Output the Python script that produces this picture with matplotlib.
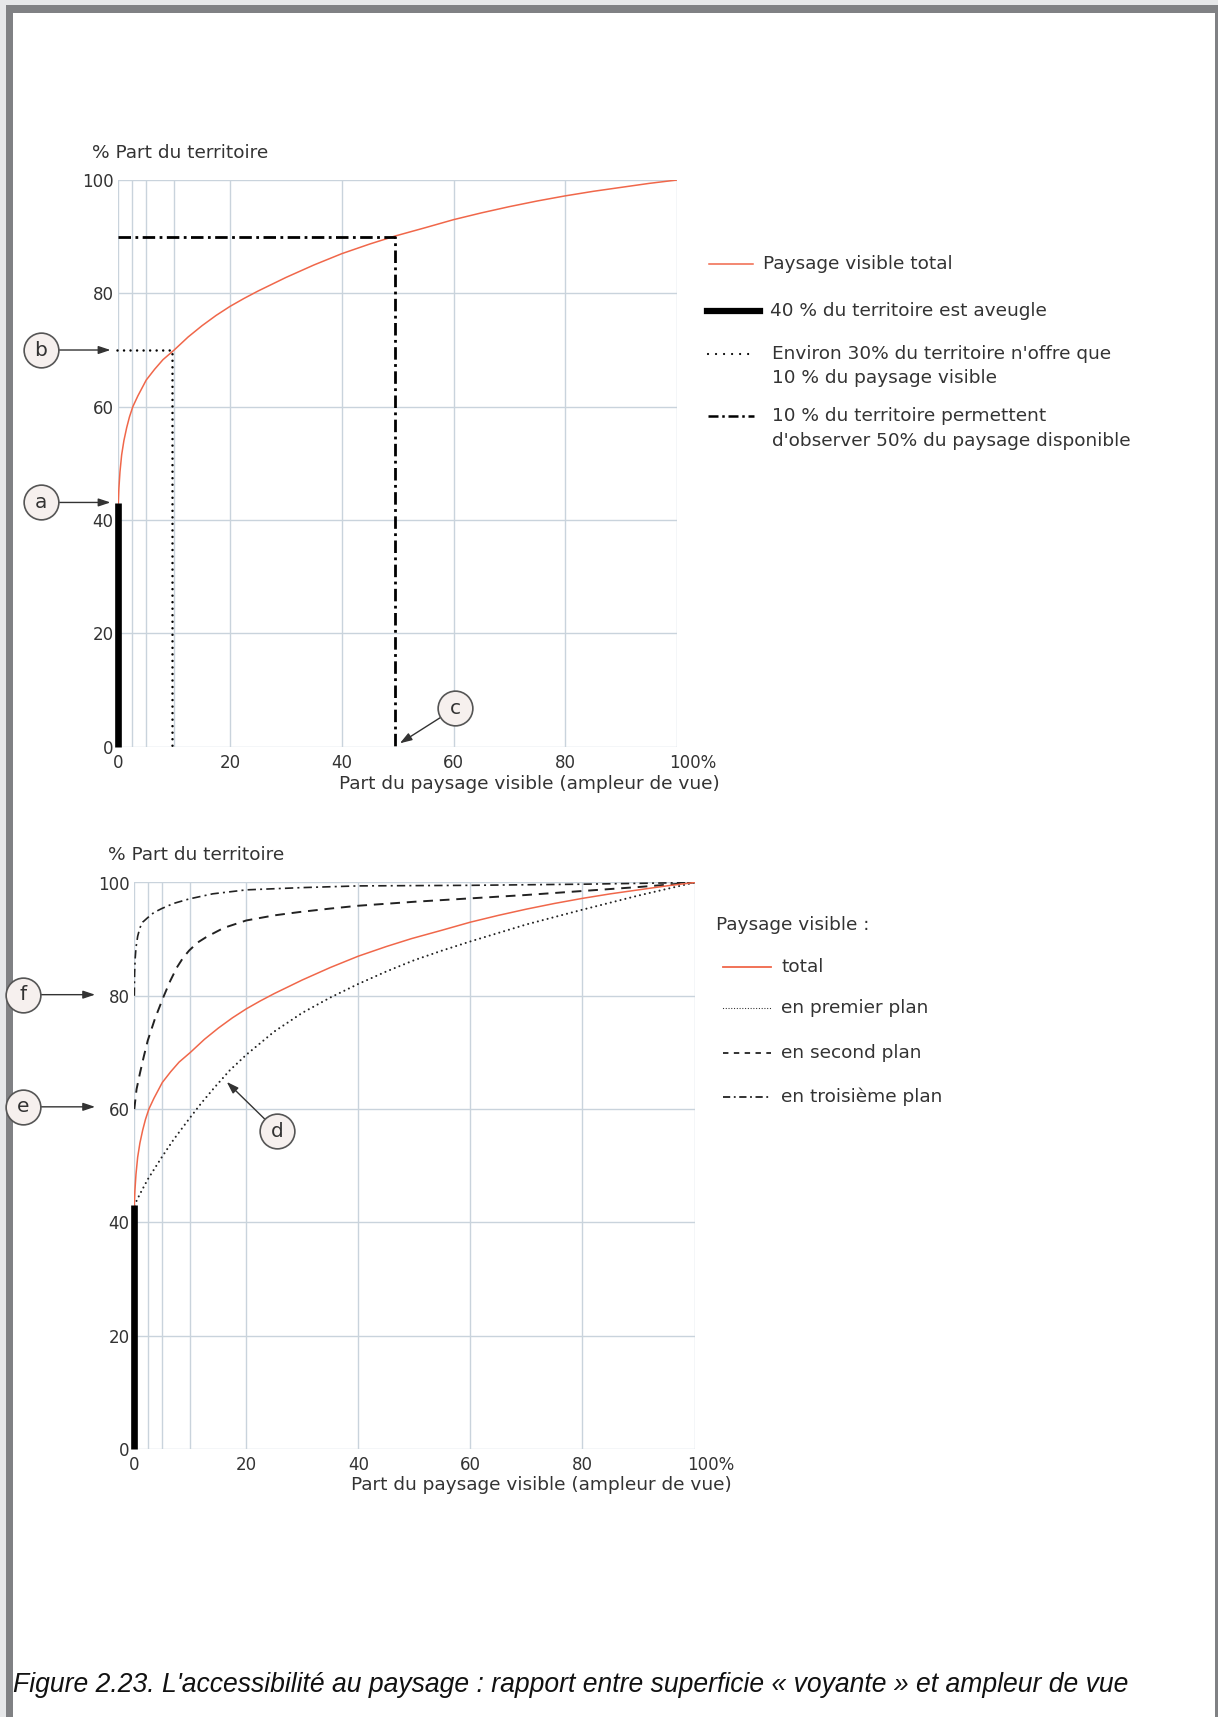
import numpy as np
import matplotlib.pyplot as plt
from matplotlib.lines import Line2D
from matplotlib.patches import Rectangle
from matplotlib.transforms import ScaledTranslation

# Courbe "paysage visible total"
total_x = [0, 0.1, 0.3, 0.6, 1, 1.5, 2, 2.6, 3.5, 5, 6.5, 8, 10, 12.5, 15, 17.5, 20, 22.5, 25, 27.5, 30,
           35, 40, 45, 49.5, 55, 60, 65, 70, 75, 80, 85, 90, 95, 100]
total_y = [43, 45.5, 48.5, 51.5, 54, 56.3, 58.2, 60, 61.9, 64.7, 66.6, 68.3, 70, 72.3, 74.3, 76.1, 77.7,
           79.1, 80.4, 81.6, 82.8, 85, 87, 88.7, 90.1, 91.6, 93, 94.2, 95.3, 96.3, 97.2, 98, 98.7, 99.4, 100]

# Plans (graphique du bas)
premier_x = [0, 1, 2.4, 4.9, 7, 9.8, 12, 14.3, 17, 20, 25, 30, 35, 40, 45, 50, 55, 60, 70, 80, 90, 100]
premier_y = [43, 45, 47.6, 51.5, 54.6, 58.3, 61.1, 63.8, 66.8, 69.6, 73.7, 77, 79.7, 82.1, 84.3, 86.3, 88,
             89.6, 92.6, 95.2, 97.7, 100]

second_x = [0, 0.4, 1, 1.7, 2.4, 3.7, 5.2, 6.4, 7.6, 8.7, 9.8, 11.3, 12.9, 16, 20, 25, 29.6, 35, 40, 50,
            60, 70, 80, 90, 100]
second_y = [60, 63.5, 66.3, 69.3, 72.1, 76, 79.8, 82.6, 85, 86.7, 88, 89.4, 90.4, 92, 93.3, 94.2, 94.8,
            95.4, 95.9, 96.6, 97.2, 97.8, 98.5, 99.2, 100]

troisieme_x = [0, 0.05, 0.15, 0.3, 0.6, 1, 1.5, 2.4, 3.5, 4.9, 7, 9.8, 14, 20, 30, 40, 60, 80, 100]
troisieme_y = [80, 84, 86.5, 88.5, 90.5, 92, 93, 93.8, 94.7, 95.4, 96.3, 97.1, 98, 98.7, 99.1, 99.4, 99.5,
               99.7, 100]

aveugle_y = 43          # part aveugle du territoire
seuil_b = (9.7, 70)     # environ 30 % du territoire -> 10 % du paysage
seuil_c = (49.5, 90)    # 10 % du territoire -> 50 % du paysage

xticks = [0, 20, 40, 60, 80, 100]
xticklabels = ['0', '20', '40', '60', '80', '100%']
yticks = [0, 20, 40, 60, 80, 100]
vgrid = [0, 2.5, 5, 10, 20, 40, 60, 80, 100]

RED = '#f0674a'
GRID = '#c9d3dc'
TXT = '#333333'
FONT = 'DejaVu Sans'
FS = 13.3      # textes
FS_TICK = 12   # graduations

W, H = 1218, 1717
fig = plt.figure(figsize=(W / 100, H / 100), dpi=100)
fig.patch.set_facecolor('white')


def fx(px):
    return px / W


def fy(py):
    return 1 - py / H


# cadre de la page
fig.add_artist(Rectangle((0, 0), 1, 1, transform=fig.transFigure, fc='#e6e7e9', ec='none', zorder=-10))
fig.add_artist(Rectangle((fx(6), 0), fx(1212), fy(5), transform=fig.transFigure, fc='#808184', ec='none', zorder=-9))
fig.add_artist(Rectangle((fx(13), 0), fx(1202), fy(13), transform=fig.transFigure, fc='white', ec='none', zorder=-8))


def setup(ax):
    ax.set_xlim(0, 100)
    ax.set_ylim(0, 100)
    for s in ax.spines.values():
        s.set_visible(False)
    ax.patch.set_alpha(0)
    for v in vgrid:
        ax.axvline(v, color=GRID, lw=1, zorder=0)
    for v in yticks:
        ax.axhline(v, color=GRID, lw=1, zorder=0)
    ax.set_xticks(xticks)
    ax.set_xticklabels(xticklabels, fontsize=FS_TICK, color=TXT, family=FONT)
    ax.set_yticks(yticks)
    ax.set_yticklabels([str(v) for v in yticks], fontsize=FS_TICK, color=TXT, family=FONT)
    ax.tick_params(length=0)
    ax.tick_params(axis='y', pad=3.5)
    ax.tick_params(axis='x', pad=5)
    lab = ax.get_xticklabels()[-1]
    lab.set_transform(lab.get_transform() + ScaledTranslation(0.16, 0, fig.dpi_scale_trans))
    ax.plot([0, 0], [0, aveugle_y], color='black', lw=4.8, solid_capstyle='butt', zorder=5, clip_on=False)


def circle(ax, letter, center, end):
    ax.plot(*center, marker='o', ms=25, mfc='#f6f0ee', mec='#555555', mew=1.2, clip_on=False, zorder=6)
    ax.text(*center, letter, ha='center', va='center', fontsize=14.5, color=TXT, family=FONT, zorder=7)
    ax.annotate('', xy=end, xytext=center, annotation_clip=False,
                arrowprops=dict(arrowstyle='-|>,head_length=0.6,head_width=0.2', color='#333333', lw=1,
                                shrinkA=12.5, shrinkB=0, mutation_scale=12))


# ---------------- graphique du haut ----------------
ax1 = fig.add_axes([fx(118.3), fy(746.7), (677 - 118.3) / W, (746.7 - 180) / H])
setup(ax1)
ax1.plot(total_x, total_y, color=RED, lw=1.1, zorder=3)
ax1.plot([-0.3, seuil_b[0], seuil_b[0]], [seuil_b[1], seuil_b[1], 0], color='black', lw=1.8,
         linestyle=(0, (0.01, 2.6)), dash_capstyle='round', clip_on=False, zorder=4)
ax1.plot([0, seuil_c[0], seuil_c[0]], [seuil_c[1], seuil_c[1], 0], color='black', lw=2,
         linestyle=(0, (4.5, 1.6, 1, 1.6)), zorder=4)
circle(ax1, 'a', (-13.9, 43.1), (-1.4, 43.1))
circle(ax1, 'b', (-13.9, 70), (-1.4, 70))
circle(ax1, 'c', (60.3, 6.8), (50.4, 0.6))
ax1.text(-0.047, 1.048, '% Part du territoire', transform=ax1.transAxes, ha='left', va='center',
         fontsize=FS, color=TXT, family=FONT)
ax1.text(1.077, -0.066, 'Part du paysage visible (ampleur de vue)', transform=ax1.transAxes,
         ha='right', va='center', fontsize=FS, color=TXT, family=FONT)

# légende du haut
fig.add_artist(Line2D([fx(709), fx(753)], [fy(264), fy(264)], color=RED, lw=1.1))
fig.add_artist(Line2D([fx(707), fx(760)], [fy(311), fy(311)], color='black', lw=4.5))
fig.add_artist(Line2D([fx(708), fx(754)], [fy(354), fy(354)], color='black', lw=1.6,
                      linestyle=(0, (0.01, 3.6)), dash_capstyle='round'))
fig.add_artist(Line2D([fx(708), fx(754)], [fy(416), fy(416)], color='black', lw=1.8,
                      linestyle=(0, (4, 1.5, 1, 1.5))))
leg1 = [(763, 264, 'Paysage visible total'),
        (770, 311, '40 % du territoire est aveugle'),
        (772, 354, "Environ 30% du territoire n'offre que"),
        (772, 378, '10 % du paysage visible'),
        (772, 416, '10 % du territoire permettent'),
        (772, 441, "d'observer 50% du paysage disponible")]
for x, y, t in leg1:
    fig.text(fx(x), fy(y), t, ha='left', va='center', fontsize=FS, color=TXT, family=FONT)

# ---------------- graphique du bas ----------------
ax2 = fig.add_axes([fx(134.3), fy(1449), (694.5 - 134.3) / W, (1449 - 882.5) / H])
setup(ax2)
ax2.plot(troisieme_x, troisieme_y, color='#222222', lw=1.2, linestyle=(0, (5, 2.5, 1.2, 2.5)), zorder=3)
ax2.plot(second_x, second_y, color='#222222', lw=1.4, linestyle=(0, (5, 3.5)), zorder=3)
ax2.plot(premier_x, premier_y, color='#222222', lw=1.5, linestyle=(0, (0.01, 2.4)),
         dash_capstyle='round', zorder=3)
ax2.plot(total_x, total_y, color=RED, lw=1.1, zorder=4)
circle(ax2, 'f', (-19.9, 80.2), (-7.0, 80.2))
circle(ax2, 'e', (-19.9, 60.4), (-7.0, 60.4))
circle(ax2, 'd', (25.5, 56.1), (16.5, 64.8))
ax2.text(-0.047, 1.049, '% Part du territoire', transform=ax2.transAxes, ha='left', va='center',
         fontsize=FS, color=TXT, family=FONT)
ax2.text(1.067, -0.063, 'Part du paysage visible (ampleur de vue)', transform=ax2.transAxes,
         ha='right', va='center', fontsize=FS, color=TXT, family=FONT)

# légende du bas
fig.text(fx(716), fy(925), 'Paysage visible :', ha='left', va='center', fontsize=FS, color=TXT, family=FONT)
fig.add_artist(Line2D([fx(723), fx(771)], [fy(967), fy(967)], color=RED, lw=1.3))
fig.add_artist(Line2D([fx(723), fx(771)], [fy(1008), fy(1008)], color='#222222', lw=0.9,
                      linestyle=(0, (0.01, 2.2)), dash_capstyle='round'))
fig.add_artist(Line2D([fx(723), fx(771)], [fy(1052.7), fy(1052.7)], color='#222222', lw=1.3,
                      linestyle=(0, (3, 3))))
fig.add_artist(Line2D([fx(723), fx(771)], [fy(1096.7), fy(1096.7)], color='#222222', lw=1.3,
                      linestyle=(0, (4, 2, 1, 2))))
leg2 = [(781, 967, 'total'), (781, 1008, 'en premier plan'),
        (781, 1052.7, 'en second plan'), (781, 1096.7, 'en troisième plan')]
for x, y, t in leg2:
    fig.text(fx(x), fy(y), t, ha='left', va='center', fontsize=FS, color=TXT, family=FONT)

# légende de la figure
fig.text(fx(13), fy(1684.6),
         "Figure 2.23. L'accessibilité au paysage : rapport entre superficie « voyante » et ampleur de vue",
         ha='left', va='center', fontsize=19.1, style='italic', color='#111111',
         family=['Liberation Sans Narrow', 'Liberation Sans'])

fig.savefig('out.png', dpi=100)
